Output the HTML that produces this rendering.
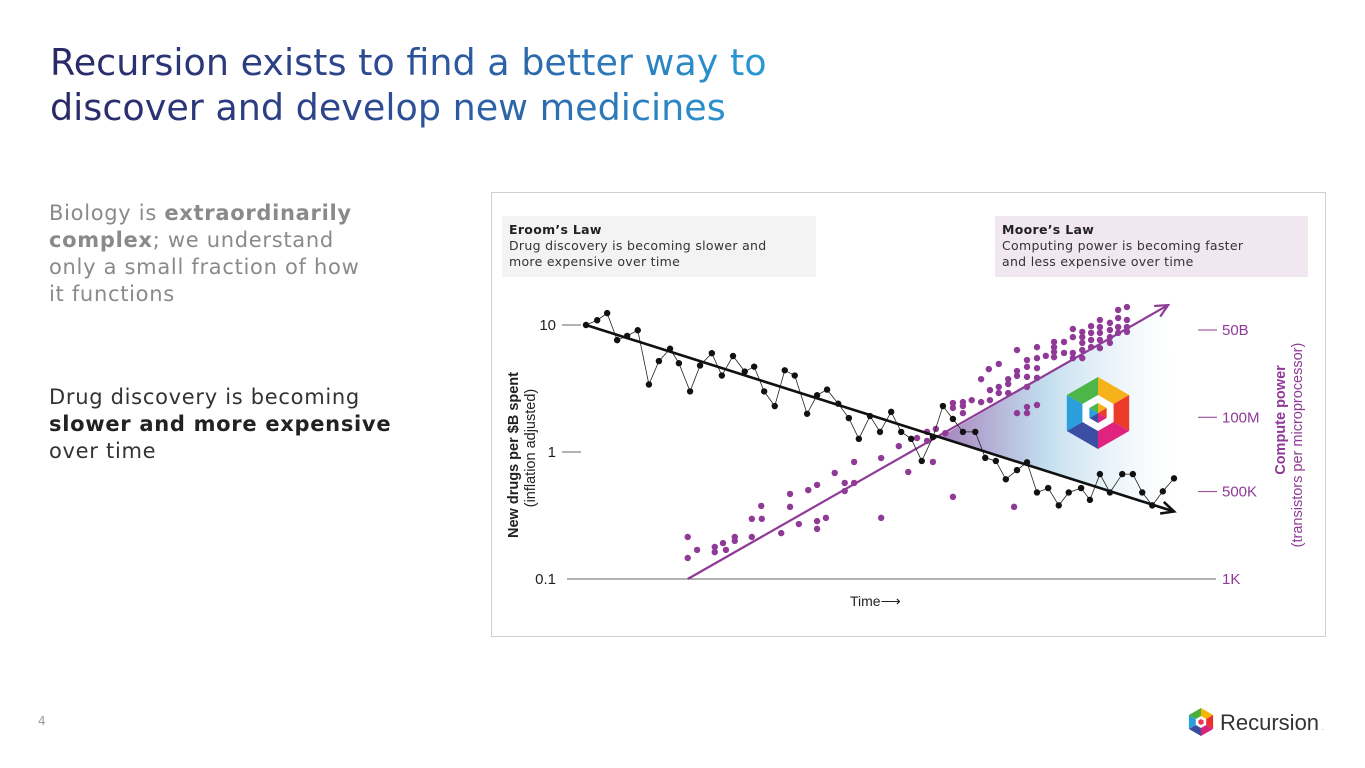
<!DOCTYPE html>
<html><head><meta charset="utf-8">
<style>
html,body{margin:0;padding:0;background:#fff;}
body{width:1365px;height:768px;position:relative;overflow:hidden;font-family:"DejaVu Sans","Liberation Sans",sans-serif;}
.title{position:absolute;left:50px;top:40px;font-size:36.5px;line-height:45px;margin:0;font-weight:normal;white-space:nowrap;
 background:linear-gradient(90deg,#2a2866 0%,#2d4b93 45%,#2a9fd8 100%);-webkit-background-clip:text;background-clip:text;color:transparent;width:740px;}
.para{position:absolute;left:49px;font-size:21px;line-height:27px;color:#8a8a8a;letter-spacing:0.7px;white-space:nowrap;}
.para b{color:#8a8a8a}
.para b.dark{color:#222;}
.chartbox{position:absolute;left:491px;top:192px;width:835px;height:445px;border:1px solid #d0d0d0;box-sizing:border-box;}
.lbox{position:absolute;top:216px;height:61px;font-size:12.5px;line-height:16px;padding:6px 0 0 7px;box-sizing:border-box;color:#333;letter-spacing:0.3px;}
.lbox b{color:#222}
.pg{position:absolute;left:38px;top:714px;font-size:12px;color:#999;}
</style></head>
<body>
<h1 class="title">Recursion exists to find a better way to<br>discover and develop new medicines</h1>
<div class="para" style="top:200px">Biology is <b>extraordinarily<br>complex</b>; we understand<br>only a small fraction of how<br>it functions</div>
<div class="para" style="top:384px;color:#333">Drug discovery is becoming<br><b class="dark">slower and more expensive</b><br>over time</div>
<div class="chartbox"></div>
<div class="lbox" style="left:502px;width:314px;background:#f3f3f3"><b>Eroom’s Law</b><br>Drug discovery is becoming slower and<br>more expensive over time</div>
<div class="lbox" style="left:995px;width:313px;background:#f1e7f1"><b>Moore’s Law</b><br>Computing power is becoming faster<br>and less expensive over time</div>
<svg id="chart" width="1365" height="768" style="position:absolute;left:0;top:0">
<defs>
<linearGradient id="tri" x1="0" y1="0" x2="1" y2="0">
<stop offset="0" stop-color="#8a5aa8" stop-opacity="0.75"/>
<stop offset="0.45" stop-color="#a8cfe6" stop-opacity="0.7"/>
<stop offset="1" stop-color="#ffffff" stop-opacity="0.3"/>
</linearGradient>
</defs>
</svg>
<div class="pg">4</div>
<svg width="150" height="40" style="position:absolute;left:1186px;top:702px">
<g transform="translate(15,20)">
<polygon points="0,-14 12.1,-7 0,0" fill="#f7b500"/><polygon points="12.1,-7 12.1,7 0,0" fill="#e8302e"/>
<polygon points="12.1,7 0,14 0,0" fill="#d6247a"/><polygon points="0,14 -12.1,7 0,0" fill="#3a4ba0"/>
<polygon points="-12.1,7 -12.1,-7 0,0" fill="#2a9fd8"/><polygon points="-12.1,-7 0,-14 0,0" fill="#4caf3a"/>
<polygon points="0,-6 5.2,-3 5.2,3 0,6 -5.2,3 -5.2,-3" fill="#fff"/>
<polygon points="0,-3 2.6,-1.5 2.6,1.5 0,3 -2.6,1.5 -2.6,-1.5" fill="#e35"/>
</g>
<text x="34" y="28" font-family="Liberation Sans,sans-serif" font-size="22" fill="#333">Recursion</text>
<text x="136" y="28" font-size="6" fill="#333" font-family="Liberation Sans,sans-serif">.</text>
</svg>
<script>
// Eroom's law: time (relative units) and new drugs per $B
const eroomTime=[0,1.9,3.6,5.3,7,8.8,10.7,12.4,14.3,15.8,17.7,19.4,21.4,23.1,25,27,28.6,30.3,32.1,33.8,35.5,37.6,39.3,41,42.9,44.7,46.4,48.3,50,51.9,53.6,55.3,57.1,59,60.7,62.4,64.1,66.2,67.9,69.7,71.4,73.3,75,76.7,78.6,80.4,82.1,84.2,85.7,87.4,89.1,91.2,93,94.6,96.3,98.1,100];
const eroomDrugs=[10,10.9,12.4,7.6,8.2,9.1,3.4,5.2,6.5,5.0,3.0,4.8,6.0,4.0,5.7,4.3,4.7,3.0,2.3,4.4,4.0,2.0,2.8,3.1,2.4,1.85,1.27,1.92,1.44,2.07,1.44,1.27,0.85,1.31,2.3,1.82,1.44,1.44,0.9,0.85,0.61,0.72,0.83,0.48,0.52,0.38,0.48,0.52,0.42,0.67,0.48,0.67,0.67,0.48,0.38,0.49,0.62];
const eroomTrend=[[0,10],[100,0.34]];
// Moore's law: time and log10(transistors per microprocessor)
const mooreTime=[17.3,17.3,18.9,21.9,21.9,23.3,23.8,25.3,25.3,28.2,28.2,29.9,29.8,33.2,34.7,34.7,36.2,37.8,39.3,39.3,39.3,40.8,42.3,44,44,45.6,45.6,50.2,50.2,53.2,54.8,56.3,58,59,59.5,58,61.1,62.4,62.4,62.4,64.1,64.1,64.1,65.6,67.2,67.2,68.5,68.7,68.7,70.2,70.2,70.2,71.8,71.8,71.8,72.8,73.3,73.3,73.3,73.3,75,75,75,75,75,75,76.7,76.7,76.7,76.7,76.7,78.2,79.6,79.6,79.6,79.6,81.3,81.3,82.8,82.8,82.8,82.8,84.4,84.4,84.4,84.4,84.4,85.9,85.9,85.9,85.9,87.4,87.4,87.4,87.4,87.4,89.1,89.1,89.1,89.1,90.5,90.5,90.5,90.5,92,92,92,92];
const mooreLogT=[4.30,3.65,3.90,3.99,3.83,4.11,3.90,4.30,4.18,4.30,4.86,4.86,5.26,4.42,5.23,5.63,4.70,5.75,5.91,4.55,4.79,4.89,6.28,5.97,5.72,5.97,6.62,6.74,4.89,7.11,6.31,7.36,7.27,6.62,7.64,7.55,7.51,5.54,8.29,8.44,8.13,8.35,8.47,8.53,8.47,9.18,9.49,8.53,8.84,9.65,8.94,8.75,9.18,9.03,8.75,5.23,10.08,9.43,9.28,8.13,8.32,8.13,8.94,9.25,9.56,9.77,10.17,8.38,9.22,9.52,9.83,9.90,10.33,10.17,10.02,9.86,10.33,9.99,10.73,10.48,9.99,9.83,10.64,10.48,10.30,10.08,9.83,10.82,10.61,10.39,10.17,11.01,10.79,10.61,10.39,10.14,10.92,10.70,10.48,10.30,11.32,11.07,10.79,10.61,11.41,11.01,10.79,10.64];
const mooreTrend=[[17.3,3],[99,11.47]];
const leftTicks=[10,1,0.1];
const leftTickLabels=["10","1","0.1"];
const rightTicks=[10.7,8,5.7,3];
const rightTickLabels=["50B","100M","500K","1K"];

const NS="http://www.w3.org/2000/svg";
const svg=document.getElementById('chart');
const xS=t=>586+t*5.88;
const yL=v=>452-Math.log10(v)*127;
const yR=e=>579-(e-3)*32.34;
function mk(tag,attrs,parent){const el=document.createElementNS(NS,tag);for(const k in attrs)el.setAttribute(k,attrs[k]);(parent||svg).appendChild(el);return el;}

const ix=940, iy=437;
let tri=mk('polygon',{points:`${ix},${iy} ${xS(mooreTrend[1][0])},${yR(mooreTrend[1][1])} ${xS(eroomTrend[1][0])},${yL(eroomTrend[1][1])}`,fill:'url(#tri)'});



let base=mk('line',{x1:567,y1:yL(0.1),x2:1216,y2:yL(0.1),stroke:'#666','stroke-width':1});


leftTicks.forEach((v,i)=>{
  if(v!==0.1){let t=mk('line',{x1:562,y1:yL(v),x2:581,y2:yL(v),stroke:'#666'});
  
  }
  let tx=mk('text',{x:556,y:yL(v)+5,'text-anchor':'end','font-size':15,fill:'#222','font-family':'Liberation Sans,sans-serif'});
  tx.textContent=leftTickLabels[i];
  
  
});
rightTicks.forEach((e,i)=>{
  if(e!==3){let t=mk('line',{x1:1198,y1:yR(e),x2:1217,y2:yR(e),stroke:'#8e3a96'});
  
  }
  let tx=mk('text',{x:1222,y:yR(e)+5,'font-size':15,fill:'#8e3a96','font-family':'Liberation Sans,sans-serif'});
  tx.textContent=rightTickLabels[i];
  
  
});
let lt=mk('text',{transform:'translate(518,455) rotate(-90)','text-anchor':'middle','font-size':14.5,'font-weight':'bold',fill:'#222','font-family':'Liberation Sans,sans-serif'});
lt.textContent='New drugs per $B spent';


let lt2=mk('text',{transform:'translate(535,448) rotate(-90)','text-anchor':'middle','font-size':14.5,fill:'#222','font-family':'Liberation Sans,sans-serif'});
lt2.textContent='(inflation adjusted)';


let rt=mk('text',{transform:'translate(1285,420) rotate(-90)','text-anchor':'middle','font-size':14.5,'font-weight':'bold',fill:'#8e3a96','font-family':'Liberation Sans,sans-serif'});
rt.textContent='Compute power';


let rt2=mk('text',{transform:'translate(1302,445) rotate(-90)','text-anchor':'middle','font-size':14.5,fill:'#8e3a96','font-family':'Liberation Sans,sans-serif'});
rt2.textContent='(transistors per microprocessor)';


let xt=mk('text',{x:850,y:606,'font-size':14,fill:'#222','font-family':'Liberation Sans,sans-serif'});
xt.textContent='Time⟶';



mooreTime.forEach((t,i)=>{
  let c=mk('circle',{cx:xS(t),cy:yR(mooreLogT[i]),r:3.2,fill:'#8e3a96'});
  
  
});
{const x1=xS(mooreTrend[0][0]),y1=yR(mooreTrend[0][1]),x2=xS(mooreTrend[1][0]),y2=yR(mooreTrend[1][1]);
let l=mk('line',{x1,y1,x2,y2,stroke:'#8e3a96','stroke-width':2.2});


const a=Math.atan2(y2-y1,x2-x1),L=14;
let ah=mk('polyline',{points:`${x2-L*Math.cos(a-0.45)},${y2-L*Math.sin(a-0.45)} ${x2},${y2} ${x2-L*Math.cos(a+0.45)},${y2-L*Math.sin(a+0.45)}`,fill:'none',stroke:'#8e3a96','stroke-width':2.2});

}

let pl=mk('polyline',{points:eroomTime.map((t,i)=>xS(t)+','+yL(eroomDrugs[i])).join(' '),fill:'none',stroke:'#222','stroke-width':0.8});


{const x1=xS(eroomTrend[0][0]),y1=yL(eroomTrend[0][1]),x2=xS(eroomTrend[1][0]),y2=yL(eroomTrend[1][1]);
let l=mk('line',{x1,y1,x2,y2,stroke:'#111','stroke-width':2.6});


const a=Math.atan2(y2-y1,x2-x1),L=14;
let ah=mk('polyline',{points:`${x2-L*Math.cos(a-0.45)},${y2-L*Math.sin(a-0.45)} ${x2},${y2} ${x2-L*Math.cos(a+0.45)},${y2-L*Math.sin(a+0.45)}`,fill:'none',stroke:'#111','stroke-width':2.6});

}
eroomTime.forEach((t,i)=>{
  let c=mk('circle',{cx:xS(t),cy:yL(eroomDrugs[i]),r:3.2,fill:'#111'});
  
  
});

const g=mk('g',{transform:'translate(1098,413)'});


const R=36, cols=['#f6b21a','#ec3a2b','#e0237f','#3b4ea3','#2b9fdc','#4cb748'];
for(let k=0;k<6;k++){const a1=(-90+60*k)*Math.PI/180,a2=(-30+60*k)*Math.PI/180;
  mk('polygon',{points:`0,0 ${R*Math.cos(a1)},${R*Math.sin(a1)} ${R*Math.cos(a2)},${R*Math.sin(a2)}`,fill:cols[k]},g);}
const hex=r=>[0,1,2,3,4,5].map(k=>{const a=(-90+60*k)*Math.PI/180;return (r*Math.cos(a))+','+(r*Math.sin(a));}).join(' ');
mk('polygon',{points:hex(18),fill:'#fff'},g);
for(let k=0;k<6;k++){const a1=(-90+60*k)*Math.PI/180,a2=(-30+60*k)*Math.PI/180,r=10;
  mk('polygon',{points:`0,0 ${r*Math.cos(a1)},${r*Math.sin(a1)} ${r*Math.cos(a2)},${r*Math.sin(a2)}`,fill:cols[k]},g);}
</script>
</body></html>
